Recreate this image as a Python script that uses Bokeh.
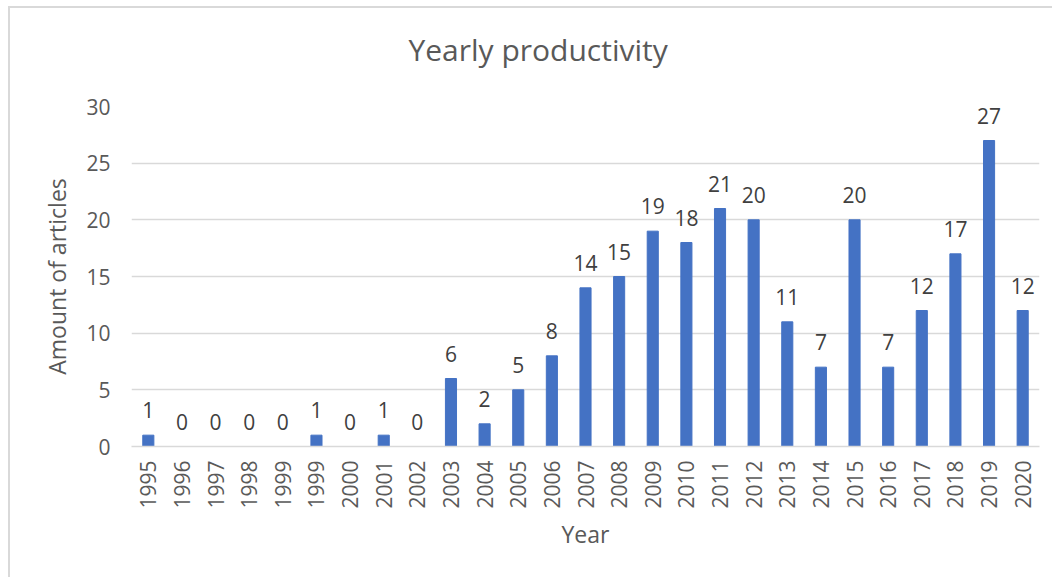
import math
from bokeh.plotting import figure
from bokeh.models import ColumnDataSource, LabelSet, Range1d, FixedTicker, Title
from bokeh.core.properties import value
from bokeh.embed import file_html
from bokeh.resources import INLINE

years = ["1995", "1996", "1997", "1998", "1999", "1999", "2000", "2001", "2002",
         "2003", "2004", "2005", "2006", "2007", "2008", "2009", "2010", "2011",
         "2012", "2013", "2014", "2015", "2016", "2017", "2018", "2019", "2020"]
counts = [1, 0, 0, 0, 0, 1, 0, 1, 0, 6, 2, 5, 8, 14, 15, 19, 18, 21, 20, 11,
          7, 20, 7, 12, 17, 27, 12]
y_ticks = [0, 5, 10, 15, 20, 25, 30]

FONT = "Open Sans"
GREY = "#595959"

pos = list(range(len(years)))
src = ColumnDataSource(dict(x=pos, y=counts, lbl=[str(c) for c in counts]))

p = figure(width=1044, height=571, output_backend="svg", toolbar_location=None,
           x_range=Range1d(-0.5, len(years) - 0.5), y_range=Range1d(0, 30),
           min_border_left=121, min_border_right=15, min_border_top=98,
           min_border_bottom=133)
p.styles = {"border-left": "2px solid #d9d9d9", "border-top": "2px solid #d9d9d9",
            "margin-left": "8px", "margin-top": "6px"}
p.outline_line_color = None
p.background_fill_color = "white"
p.border_fill_color = "white"

p.vbar(x="x", top="y", width=0.33, source=src, color="#4472C4")

labels = LabelSet(x="x", y="y", text="lbl", source=src, y_offset=17,
                  text_align="center", text_baseline="alphabetic",
                  text_font=value(FONT), text_font_size=value("21px"),
                  text_color="#404040")
p.add_layout(labels)

# x axis
p.xaxis.ticker = FixedTicker(ticks=pos)
p.xaxis.major_label_overrides = {i: y for i, y in enumerate(years)}
p.xaxis.major_label_orientation = math.pi / 2
p.xaxis.major_tick_line_color = None
p.xaxis.minor_tick_line_color = None
p.xaxis.major_tick_out = 0
p.xaxis.major_label_standoff = 14
p.xaxis.axis_line_color = "#d9d9d9"
p.xaxis.axis_line_width = 1.5
p.xaxis.major_label_text_font = FONT
p.xaxis.major_label_text_font_size = "21px"
p.xaxis.major_label_text_color = GREY
p.xaxis.axis_label = "Year"
p.xaxis.axis_label_text_font = FONT
p.xaxis.axis_label_text_font_size = "23px"
p.xaxis.axis_label_text_font_style = "normal"
p.xaxis.axis_label_text_color = GREY
p.xaxis.axis_label_standoff = 6

# y axis
p.yaxis.ticker = FixedTicker(ticks=y_ticks)
p.yaxis.axis_line_color = None
p.yaxis.major_tick_line_color = None
p.yaxis.minor_tick_line_color = None
p.yaxis.major_tick_out = 0
p.yaxis.major_label_standoff = 21
p.yaxis.major_label_text_font = FONT
p.yaxis.major_label_text_font_size = "21px"
p.yaxis.major_label_text_color = GREY
p.yaxis.axis_label = "Amount of articles"
p.yaxis.axis_label_text_font = FONT
p.yaxis.axis_label_text_font_size = "23px"
p.yaxis.axis_label_text_font_style = "normal"
p.yaxis.axis_label_text_color = GREY
p.yaxis.axis_label_standoff = 10

p.xgrid.grid_line_color = None
p.ygrid.grid_line_color = "#d9d9d9"
p.ygrid.grid_line_width = 1.5

# invisible spacer panel between the frame and the title
spacer = Title(text=" ", text_font_size="10px", standoff=19,
               text_color="white")
p.add_layout(spacer, "above")

title = Title(text="Yearly productivity", align="left", offset=277,
              standoff=10, text_font=FONT, text_font_size="30px",
              text_font_style="normal", text_color=GREY)
p.add_layout(title, "above")

open("out.html", "w").write(file_html(p, INLINE))
